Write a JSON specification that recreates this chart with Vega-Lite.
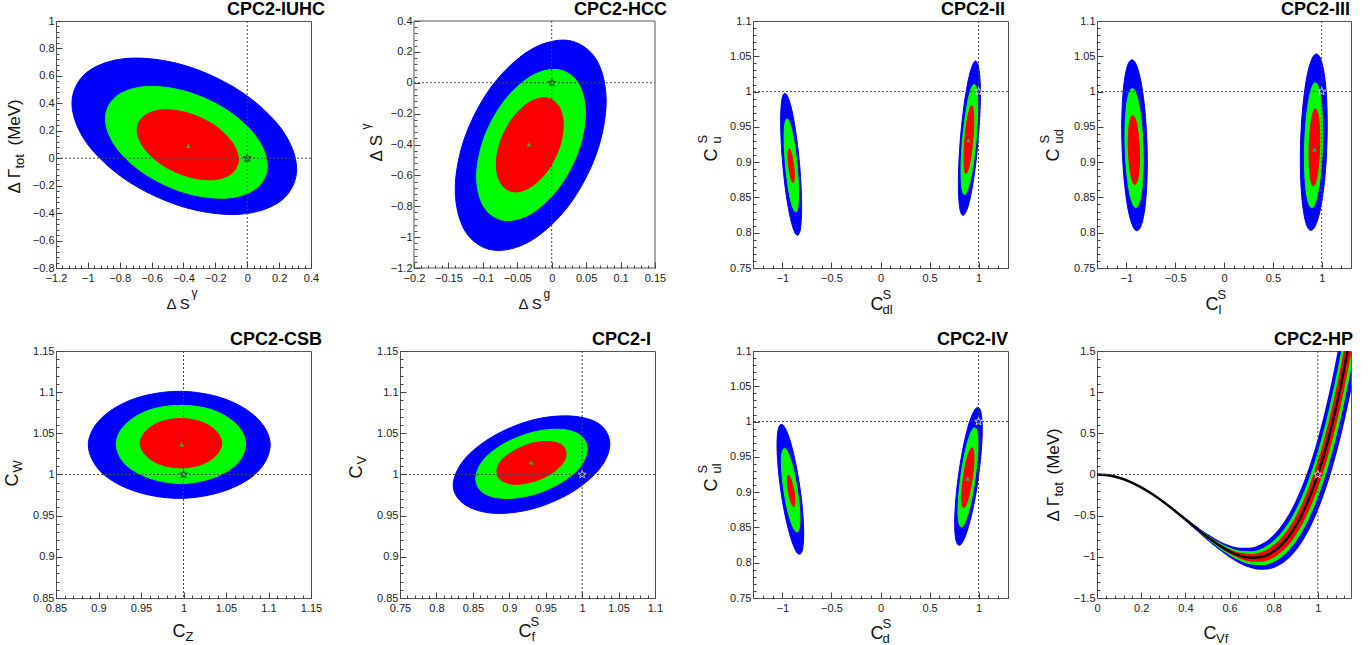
{
"$schema":"https://vega.github.io/schema/vega-lite/v6.json",
"background":"white",
"padding":{"left":2,"top":0,"right":0,"bottom":0},
"columns":7,
"align":"each",
"bounds":"flush",
"spacing":{"row":83,"column":0},
"datasets":{
"p1b":[{"i":0,"x":0.310,"y":-0.079},{"i":1,"x":0.216,"y":0.211},{"i":2,"x":-0.043,"y":0.488},{"i":3,"x":-0.395,"y":0.677},{"i":4,"x":-0.748,"y":0.728},{"i":5,"x":-1.006,"y":0.626},{"i":6,"x":-1.100,"y":0.399},{"i":7,"x":-1.006,"y":0.109},{"i":8,"x":-0.748,"y":-0.168},{"i":9,"x":-0.395,"y":-0.357},{"i":10,"x":-0.043,"y":-0.408},{"i":11,"x":0.216,"y":-0.306}],
"p1g":[{"i":0,"x":0.126,"y":-0.055},{"i":1,"x":0.058,"y":0.153},{"i":2,"x":-0.128,"y":0.351},{"i":3,"x":-0.382,"y":0.486},{"i":4,"x":-0.636,"y":0.522},{"i":5,"x":-0.822,"y":0.450},{"i":6,"x":-0.890,"y":0.287},{"i":7,"x":-0.822,"y":0.079},{"i":8,"x":-0.636,"y":-0.119},{"i":9,"x":-0.382,"y":-0.254},{"i":10,"x":-0.128,"y":-0.290},{"i":11,"x":0.058,"y":-0.218}],
"p1r":[{"i":0,"x":-0.055,"y":-0.010},{"i":1,"x":-0.098,"y":0.121},{"i":2,"x":-0.214,"y":0.246},{"i":3,"x":-0.373,"y":0.330},{"i":4,"x":-0.532,"y":0.353},{"i":5,"x":-0.648,"y":0.307},{"i":6,"x":-0.691,"y":0.206},{"i":7,"x":-0.648,"y":0.075},{"i":8,"x":-0.532,"y":-0.050},{"i":9,"x":-0.373,"y":-0.134},{"i":10,"x":-0.214,"y":-0.157},{"i":11,"x":-0.098,"y":-0.111}],
"p2b":[{"i":0,"x":0.0791,"y":-0.119},{"i":1,"x":0.0644,"y":0.153},{"i":2,"x":0.0243,"y":0.274},{"i":3,"x":-0.0305,"y":0.214},{"i":4,"x":-0.0853,"y":-0.012},{"i":5,"x":-0.1254,"y":-0.344},{"i":6,"x":-0.1401,"y":-0.691},{"i":7,"x":-0.1254,"y":-0.963},{"i":8,"x":-0.0853,"y":-1.084},{"i":9,"x":-0.0305,"y":-1.024},{"i":10,"x":0.0243,"y":-0.798},{"i":11,"x":0.0644,"y":-0.466}],
"p2g":[{"i":0,"x":0.049,"y":-0.197},{"i":1,"x":0.0384,"y":-0.002},{"i":2,"x":0.0095,"y":0.085},{"i":3,"x":-0.030,"y":0.042},{"i":4,"x":-0.0695,"y":-0.121},{"i":5,"x":-0.0984,"y":-0.359},{"i":6,"x":-0.109,"y":-0.609},{"i":7,"x":-0.0984,"y":-0.804},{"i":8,"x":-0.0695,"y":-0.891},{"i":9,"x":-0.030,"y":-0.848},{"i":10,"x":0.0095,"y":-0.685},{"i":11,"x":0.0384,"y":-0.447}],
"p2r":[{"i":0,"x":0.0169,"y":-0.274},{"i":1,"x":0.0104,"y":-0.153},{"i":2,"x":-0.0074,"y":-0.098},{"i":3,"x":-0.0318,"y":-0.125},{"i":4,"x":-0.0562,"y":-0.226},{"i":5,"x":-0.0740,"y":-0.375},{"i":6,"x":-0.0805,"y":-0.530},{"i":7,"x":-0.0740,"y":-0.651},{"i":8,"x":-0.0562,"y":-0.706},{"i":9,"x":-0.0318,"y":-0.679},{"i":10,"x":-0.0074,"y":-0.578},{"i":11,"x":0.0104,"y":-0.430}],
"p3b":[{"k":"L","i":0,"x":-0.804,"y":0.836},{"k":"L","i":1,"x":-0.818,"y":0.885},{"k":"L","i":2,"x":-0.858,"y":0.937},{"k":"L","i":3,"x":-0.911,"y":0.978},{"k":"L","i":4,"x":-0.965,"y":0.997},{"k":"L","i":5,"x":-1.004,"y":0.990},{"k":"L","i":6,"x":-1.018,"y":0.958},{"k":"L","i":7,"x":-1.004,"y":0.909},{"k":"L","i":8,"x":-0.965,"y":0.857},{"k":"L","i":9,"x":-0.911,"y":0.816},{"k":"L","i":10,"x":-0.858,"y":0.797},{"k":"L","i":11,"x":-0.818,"y":0.804},
{"k":"R","i":0,"x":1.019,"y":0.997},{"k":"R","i":1,"x":1.003,"y":1.033},{"k":"R","i":2,"x":0.962,"y":1.043},{"k":"R","i":3,"x":0.906,"y":1.023},{"k":"R","i":4,"x":0.850,"y":0.979},{"k":"R","i":5,"x":0.809,"y":0.923},{"k":"R","i":6,"x":0.794,"y":0.870},{"k":"R","i":7,"x":0.809,"y":0.834},{"k":"R","i":8,"x":0.850,"y":0.825},{"k":"R","i":9,"x":0.906,"y":0.844},{"k":"R","i":10,"x":0.962,"y":0.888},{"k":"R","i":11,"x":1.003,"y":0.944}],
"p3g":[{"k":"L","i":0,"x":-0.835,"y":0.855},{"k":"L","i":1,"x":-0.845,"y":0.887},{"k":"L","i":2,"x":-0.872,"y":0.921},{"k":"L","i":3,"x":-0.909,"y":0.948},{"k":"L","i":4,"x":-0.946,"y":0.961},{"k":"L","i":5,"x":-0.973,"y":0.956},{"k":"L","i":6,"x":-0.983,"y":0.935},{"k":"L","i":7,"x":-0.973,"y":0.903},{"k":"L","i":8,"x":-0.946,"y":0.869},{"k":"L","i":9,"x":-0.909,"y":0.842},{"k":"L","i":10,"x":-0.872,"y":0.830},{"k":"L","i":11,"x":-0.845,"y":0.834},
{"k":"R","i":0,"x":0.991,"y":0.977},{"k":"R","i":1,"x":0.980,"y":1.003},{"k":"R","i":2,"x":0.949,"y":1.010},{"k":"R","i":3,"x":0.906,"y":0.996},{"k":"R","i":4,"x":0.864,"y":0.964},{"k":"R","i":5,"x":0.832,"y":0.925},{"k":"R","i":6,"x":0.821,"y":0.887},{"k":"R","i":7,"x":0.832,"y":0.861},{"k":"R","i":8,"x":0.864,"y":0.854},{"k":"R","i":9,"x":0.906,"y":0.869},{"k":"R","i":10,"x":0.949,"y":0.900},{"k":"R","i":11,"x":0.980,"y":0.939}],
"p3r":[{"k":"L","i":0,"x":-0.879,"y":0.881},{"k":"L","i":1,"x":-0.883,"y":0.892},{"k":"L","i":2,"x":-0.895,"y":0.904},{"k":"L","i":3,"x":-0.911,"y":0.914},{"k":"L","i":4,"x":-0.927,"y":0.919},{"k":"L","i":5,"x":-0.939,"y":0.917},{"k":"L","i":6,"x":-0.943,"y":0.909},{"k":"L","i":7,"x":-0.939,"y":0.898},{"k":"L","i":8,"x":-0.927,"y":0.886},{"k":"L","i":9,"x":-0.911,"y":0.876},{"k":"L","i":10,"x":-0.895,"y":0.871},{"k":"L","i":11,"x":-0.883,"y":0.873},
{"k":"R","i":0,"x":0.951,"y":0.960},{"k":"R","i":1,"x":0.944,"y":0.976},{"k":"R","i":2,"x":0.926,"y":0.980},{"k":"R","i":3,"x":0.901,"y":0.971},{"k":"R","i":4,"x":0.876,"y":0.952},{"k":"R","i":5,"x":0.858,"y":0.927},{"k":"R","i":6,"x":0.852,"y":0.904},{"k":"R","i":7,"x":0.858,"y":0.888},{"k":"R","i":8,"x":0.876,"y":0.884},{"k":"R","i":9,"x":0.901,"y":0.893},{"k":"R","i":10,"x":0.926,"y":0.912},{"k":"R","i":11,"x":0.944,"y":0.937}],
"p4b":[{"k":"L","i":0,"x":-0.785,"y":0.900},{"k":"L","i":1,"x":-0.803,"y":0.963},{"k":"L","i":2,"x":-0.851,"y":1.015},{"k":"L","i":3,"x":-0.916,"y":1.043},{"k":"L","i":4,"x":-0.982,"y":1.039},{"k":"L","i":5,"x":-1.029,"y":1.005},{"k":"L","i":6,"x":-1.047,"y":0.948},{"k":"L","i":7,"x":-1.029,"y":0.886},{"k":"L","i":8,"x":-0.982,"y":0.833},{"k":"L","i":9,"x":-0.916,"y":0.805},{"k":"L","i":10,"x":-0.851,"y":0.809},{"k":"L","i":11,"x":-0.803,"y":0.843},
{"k":"R","i":0,"x":1.057,"y":0.953},{"k":"R","i":1,"x":1.039,"y":1.011},{"k":"R","i":2,"x":0.988,"y":1.047},{"k":"R","i":3,"x":0.919,"y":1.051},{"k":"R","i":4,"x":0.850,"y":1.022},{"k":"R","i":5,"x":0.800,"y":0.968},{"k":"R","i":6,"x":0.781,"y":0.903},{"k":"R","i":7,"x":0.800,"y":0.845},{"k":"R","i":8,"x":0.850,"y":0.809},{"k":"R","i":9,"x":0.919,"y":0.806},{"k":"R","i":10,"x":0.988,"y":0.834},{"k":"R","i":11,"x":1.039,"y":0.888}],
"p4g":[{"k":"L","i":0,"x":-0.826,"y":0.903},{"k":"L","i":1,"x":-0.839,"y":0.947},{"k":"L","i":2,"x":-0.873,"y":0.983},{"k":"L","i":3,"x":-0.920,"y":1.003},{"k":"L","i":4,"x":-0.967,"y":1.000},{"k":"L","i":5,"x":-1.001,"y":0.976},{"k":"L","i":6,"x":-1.014,"y":0.937},{"k":"L","i":7,"x":-1.001,"y":0.893},{"k":"L","i":8,"x":-0.967,"y":0.857},{"k":"L","i":9,"x":-0.920,"y":0.837},{"k":"L","i":10,"x":-0.873,"y":0.840},{"k":"L","i":11,"x":-0.839,"y":0.864},
{"k":"R","i":0,"x":1.010,"y":0.942},{"k":"R","i":1,"x":0.998,"y":0.983},{"k":"R","i":2,"x":0.963,"y":1.008},{"k":"R","i":3,"x":0.917,"y":1.011},{"k":"R","i":4,"x":0.870,"y":0.990},{"k":"R","i":5,"x":0.836,"y":0.952},{"k":"R","i":6,"x":0.823,"y":0.906},{"k":"R","i":7,"x":0.836,"y":0.865},{"k":"R","i":8,"x":0.870,"y":0.840},{"k":"R","i":9,"x":0.917,"y":0.837},{"k":"R","i":10,"x":0.963,"y":0.858},{"k":"R","i":11,"x":0.998,"y":0.896}],
"p4r":[{"k":"L","i":0,"x":-0.864,"y":0.907},{"k":"L","i":1,"x":-0.872,"y":0.933},{"k":"L","i":2,"x":-0.893,"y":0.954},{"k":"L","i":3,"x":-0.922,"y":0.965},{"k":"L","i":4,"x":-0.951,"y":0.964},{"k":"L","i":5,"x":-0.972,"y":0.950},{"k":"L","i":6,"x":-0.980,"y":0.927},{"k":"L","i":7,"x":-0.972,"y":0.902},{"k":"L","i":8,"x":-0.951,"y":0.880},{"k":"L","i":9,"x":-0.922,"y":0.869},{"k":"L","i":10,"x":-0.893,"y":0.871},{"k":"L","i":11,"x":-0.872,"y":0.885},
{"k":"R","i":0,"x":0.980,"y":0.932},{"k":"R","i":1,"x":0.973,"y":0.958},{"k":"R","i":2,"x":0.953,"y":0.973},{"k":"R","i":3,"x":0.926,"y":0.975},{"k":"R","i":4,"x":0.898,"y":0.962},{"k":"R","i":5,"x":0.878,"y":0.938},{"k":"R","i":6,"x":0.871,"y":0.910},{"k":"R","i":7,"x":0.878,"y":0.885},{"k":"R","i":8,"x":0.898,"y":0.869},{"k":"R","i":9,"x":0.926,"y":0.867},{"k":"R","i":10,"x":0.953,"y":0.880},{"k":"R","i":11,"x":0.973,"y":0.904}],
"p5b":[{"i":0,"x":1.102,"y":1.036},{"i":1,"x":1.087,"y":1.068},{"i":2,"x":1.048,"y":1.092},{"i":3,"x":0.995,"y":1.101},{"i":4,"x":0.942,"y":1.092},{"i":5,"x":0.903,"y":1.068},{"i":6,"x":0.888,"y":1.036},{"i":7,"x":0.903,"y":1.003},{"i":8,"x":0.942,"y":0.980},{"i":9,"x":0.995,"y":0.971},{"i":10,"x":1.048,"y":0.980},{"i":11,"x":1.087,"y":1.003}],
"p5g":[{"i":0,"x":1.073,"y":1.037},{"i":1,"x":1.063,"y":1.060},{"i":2,"x":1.035,"y":1.078},{"i":3,"x":0.997,"y":1.084},{"i":4,"x":0.959,"y":1.078},{"i":5,"x":0.931,"y":1.060},{"i":6,"x":0.921,"y":1.037},{"i":7,"x":0.931,"y":1.013},{"i":8,"x":0.959,"y":0.996},{"i":9,"x":0.997,"y":0.989},{"i":10,"x":1.035,"y":0.996},{"i":11,"x":1.063,"y":1.013}],
"p5r":[{"i":0,"x":1.045,"y":1.038},{"i":1,"x":1.038,"y":1.053},{"i":2,"x":1.021,"y":1.064},{"i":3,"x":0.997,"y":1.068},{"i":4,"x":0.973,"y":1.064},{"i":5,"x":0.956,"y":1.053},{"i":6,"x":0.949,"y":1.038},{"i":7,"x":0.956,"y":1.023},{"i":8,"x":0.973,"y":1.012},{"i":9,"x":0.997,"y":1.008},{"i":10,"x":1.021,"y":1.012},{"i":11,"x":1.038,"y":1.023}],
"p6b":[{"i":0,"x":1.038,"y":1.037},{"i":1,"x":1.024,"y":1.061},{"i":2,"x":0.985,"y":1.071},{"i":3,"x":0.931,"y":1.066},{"i":4,"x":0.877,"y":1.046},{"i":5,"x":0.838,"y":1.018},{"i":6,"x":0.823,"y":0.987},{"i":7,"x":0.838,"y":0.964},{"i":8,"x":0.877,"y":0.953},{"i":9,"x":0.931,"y":0.958},{"i":10,"x":0.985,"y":0.978},{"i":11,"x":1.024,"y":1.007}],
"p6g":[{"i":0,"x":1.007,"y":1.031},{"i":1,"x":0.997,"y":1.048},{"i":2,"x":0.969,"y":1.055},{"i":3,"x":0.931,"y":1.051},{"i":4,"x":0.892,"y":1.037},{"i":5,"x":0.864,"y":1.017},{"i":6,"x":0.854,"y":0.995},{"i":7,"x":0.864,"y":0.978},{"i":8,"x":0.892,"y":0.971},{"i":9,"x":0.931,"y":0.975},{"i":10,"x":0.969,"y":0.989},{"i":11,"x":0.997,"y":1.009}],
"p6r":[{"i":0,"x":0.978,"y":1.025},{"i":1,"x":0.972,"y":1.036},{"i":2,"x":0.954,"y":1.040},{"i":3,"x":0.931,"y":1.038},{"i":4,"x":0.907,"y":1.029},{"i":5,"x":0.889,"y":1.017},{"i":6,"x":0.883,"y":1.003},{"i":7,"x":0.889,"y":0.993},{"i":8,"x":0.907,"y":0.988},{"i":9,"x":0.931,"y":0.991},{"i":10,"x":0.954,"y":0.999},{"i":11,"x":0.972,"y":1.012}],
"p7b":[{"k":"L","i":0,"x":-0.783,"y":0.841},{"k":"L","i":1,"x":-0.801,"y":0.884},{"k":"L","i":2,"x":-0.851,"y":0.931},{"k":"L","i":3,"x":-0.919,"y":0.972},{"k":"L","i":4,"x":-0.987,"y":0.994},{"k":"L","i":5,"x":-1.037,"y":0.992},{"k":"L","i":6,"x":-1.055,"y":0.967},{"k":"L","i":7,"x":-1.037,"y":0.925},{"k":"L","i":8,"x":-0.987,"y":0.877},{"k":"L","i":9,"x":-0.919,"y":0.837},{"k":"L","i":10,"x":-0.851,"y":0.814},{"k":"L","i":11,"x":-0.801,"y":0.816},
{"k":"R","i":0,"x":1.038,"y":0.989},{"k":"R","i":1,"x":1.019,"y":1.016},{"k":"R","i":2,"x":0.968,"y":1.018},{"k":"R","i":3,"x":0.897,"y":0.995},{"k":"R","i":4,"x":0.827,"y":0.952},{"k":"R","i":5,"x":0.775,"y":0.901},{"k":"R","i":6,"x":0.756,"y":0.856},{"k":"R","i":7,"x":0.775,"y":0.829},{"k":"R","i":8,"x":0.827,"y":0.827},{"k":"R","i":9,"x":0.897,"y":0.851},{"k":"R","i":10,"x":0.968,"y":0.894},{"k":"R","i":11,"x":1.019,"y":0.945}],
"p7g":[{"k":"L","i":0,"x":-0.821,"y":0.862},{"k":"L","i":1,"x":-0.834,"y":0.889},{"k":"L","i":2,"x":-0.869,"y":0.920},{"k":"L","i":3,"x":-0.916,"y":0.946},{"k":"L","i":4,"x":-0.964,"y":0.961},{"k":"L","i":5,"x":-0.998,"y":0.959},{"k":"L","i":6,"x":-1.011,"y":0.943},{"k":"L","i":7,"x":-0.998,"y":0.916},{"k":"L","i":8,"x":-0.964,"y":0.885},{"k":"L","i":9,"x":-0.916,"y":0.859},{"k":"L","i":10,"x":-0.869,"y":0.845},{"k":"L","i":11,"x":-0.834,"y":0.846},
{"k":"R","i":0,"x":0.994,"y":0.969},{"k":"R","i":1,"x":0.980,"y":0.988},{"k":"R","i":2,"x":0.943,"y":0.990},{"k":"R","i":3,"x":0.892,"y":0.973},{"k":"R","i":4,"x":0.841,"y":0.942},{"k":"R","i":5,"x":0.804,"y":0.905},{"k":"R","i":6,"x":0.790,"y":0.873},{"k":"R","i":7,"x":0.804,"y":0.854},{"k":"R","i":8,"x":0.841,"y":0.852},{"k":"R","i":9,"x":0.892,"y":0.869},{"k":"R","i":10,"x":0.943,"y":0.900},{"k":"R","i":11,"x":0.980,"y":0.937}],
"p7r":[{"k":"L","i":0,"x":-0.872,"y":0.886},{"k":"L","i":1,"x":-0.877,"y":0.897},{"k":"L","i":2,"x":-0.892,"y":0.908},{"k":"L","i":3,"x":-0.911,"y":0.918},{"k":"L","i":4,"x":-0.931,"y":0.924},{"k":"L","i":5,"x":-0.945,"y":0.923},{"k":"L","i":6,"x":-0.950,"y":0.917},{"k":"L","i":7,"x":-0.945,"y":0.907},{"k":"L","i":8,"x":-0.931,"y":0.895},{"k":"L","i":9,"x":-0.911,"y":0.885},{"k":"L","i":10,"x":-0.892,"y":0.880},{"k":"L","i":11,"x":-0.877,"y":0.880},
{"k":"R","i":0,"x":0.953,"y":0.949},{"k":"R","i":1,"x":0.945,"y":0.961},{"k":"R","i":2,"x":0.922,"y":0.962},{"k":"R","i":3,"x":0.891,"y":0.952},{"k":"R","i":4,"x":0.859,"y":0.933},{"k":"R","i":5,"x":0.836,"y":0.911},{"k":"R","i":6,"x":0.828,"y":0.892},{"k":"R","i":7,"x":0.836,"y":0.880},{"k":"R","i":8,"x":0.859,"y":0.879},{"k":"R","i":9,"x":0.891,"y":0.889},{"k":"R","i":10,"x":0.922,"y":0.908},{"k":"R","i":11,"x":0.945,"y":0.930}],
"hpc":[{"x":0,"f":0},{"x":0.05,"f":-0.0101},{"x":0.1,"f":-0.0401},{"x":0.15,"f":-0.0891},{"x":0.2,"f":-0.1555},{"x":0.25,"f":-0.2373},{"x":0.3,"f":-0.3317},{"x":0.35,"f":-0.4353},{"x":0.4,"f":-0.5443},{"x":0.45,"f":-0.654},{"x":0.5,"f":-0.7594},{"x":0.55,"f":-0.8545},{"x":0.6,"f":-0.9331},{"x":0.65,"f":-0.9882},{"x":0.7,"f":-1.0121},{"x":0.75,"f":-0.9967},{"x":0.8,"f":-0.9331},{"x":0.85,"f":-0.812},{"x":0.9,"f":-0.6233},{"x":0.95,"f":-0.3564},{"x":1,"f":0},{"x":1.05,"f":0.4577},{"x":1.1,"f":1.0291},{"x":1.15,"f":1.7274}],
"hpb":[{"x":0.35,"bl":-0.4465,"bu":-0.4241,"gl":-0.4424,"gu":-0.4282,"rl":-0.4395,"ru":-0.4311},{"x":0.4,"bl":-0.5621,"bu":-0.5265,"gl":-0.5556,"gu":-0.533,"rl":-0.551,"ru":-0.5376},{"x":0.45,"bl":-0.6809,"bu":-0.6271,"gl":-0.6711,"gu":-0.6369,"rl":-0.6641,"ru":-0.6439},{"x":0.5,"bl":-0.7983,"bu":-0.7205,"gl":-0.7841,"gu":-0.7347,"rl":-0.774,"ru":-0.7448},{"x":0.55,"bl":-0.9088,"bu":-0.8002,"gl":-0.889,"gu":-0.82,"rl":-0.8749,"ru":-0.8341},{"x":0.6,"bl":-1.0067,"bu":-0.8595,"gl":-0.9799,"gu":-0.8863,"rl":-0.9607,"ru":-0.9055},{"x":0.65,"bl":-1.0856,"bu":-0.8908,"gl":-1.0502,"gu":-0.9262,"rl":-1.0247,"ru":-0.9517},{"x":0.7,"bl":-1.1384,"bu":-0.8858,"gl":-1.0925,"gu":-0.9317,"rl":-1.0595,"ru":-0.9647},{"x":0.75,"bl":-1.1575,"bu":-0.8359,"gl":-1.099,"gu":-0.8944,"rl":-1.057,"ru":-0.9364},{"x":0.8,"bl":-1.1346,"bu":-0.7316,"gl":-1.0613,"gu":-0.8049,"rl":-1.0087,"ru":-0.8575},{"x":0.85,"bl":-1.0611,"bu":-0.5629,"gl":-0.9705,"gu":-0.6535,"rl":-0.9054,"ru":-0.7186},{"x":0.9,"bl":-0.9276,"bu":-0.319,"gl":-0.8169,"gu":-0.4297,"rl":-0.7374,"ru":-0.5092},{"x":0.95,"bl":-0.7241,"bu":0.0113,"gl":-0.5904,"gu":-0.1224,"rl":-0.4943,"ru":-0.2185},{"x":1,"bl":-0.44,"bu":0.44,"gl":-0.28,"gu":0.28,"rl":-0.165,"ru":0.165},{"x":1.05,"bl":-0.0642,"bu":0.9796,"gl":0.1256,"gu":0.7898,"rl":0.262,"ru":0.6534},{"x":1.1,"bl":0.4149,"bu":1.6433,"gl":0.6382,"gu":1.42,"rl":0.7988,"ru":1.2594},{"x":1.15,"bl":1.0098,"bu":2.445,"gl":1.2707,"gu":2.1841,"rl":1.4583,"ru":1.9965}]
},
"concat":[
{"width":255,"height":247,"title":{"text":"CPC2-IUHC","dx":14},
"resolve":{"axis":{"x":"independent","y":"independent"}},
"layer":[
{"data":{"name":"p1b"},"mark":{"type":"line","interpolate":"cardinal-closed","fill":"#0000ff","stroke":"#0000ff","strokeWidth":1},
"encoding":{"x":{"field":"x","type":"quantitative","scale":{"domain":[-1.2,0.4]},"axis":{"orient":"bottom","values":[-1.2,-1,-0.8,-0.6,-0.4,-0.2,0,0.2,0.4],"ticks":false,"format":"~g","title":"Δ S","titleFontSize":15,"titleX":110,"titleY":40}},
"y":{"field":"y","type":"quantitative","scale":{"domain":[-0.8,1]},"axis":{"orient":"left","values":[-0.8,-0.6,-0.4,-0.2,0,0.2,0.4,0.6,0.8,1],"ticks":false,"format":"~g","title":"Δ Γ","titleFontSize":17,"titleX":-37,"titleY":172}},
"order":{"field":"i"}}},
{"data":{"name":"p1g"},"mark":{"type":"line","interpolate":"cardinal-closed","fill":"#00ff00","stroke":"#00ff00","strokeWidth":1},
"encoding":{"x":{"field":"x","type":"quantitative","scale":{"domain":[-1.2,0.4]},"axis":{"orient":"bottom","values":[-1.2,-1,-0.8,-0.6,-0.4,-0.2,0,0.2,0.4],"labels":false,"tickSize":-6,"title":"γ","titleFontSize":12,"titleX":135,"titleY":28}},
"y":{"field":"y","type":"quantitative","scale":{"domain":[-0.8,1]},"axis":{"orient":"left","values":[-0.8,-0.6,-0.4,-0.2,0,0.2,0.4,0.6,0.8,1],"labels":false,"tickSize":-6,"title":"tot","titleFontSize":13,"titleX":-33,"titleY":147}},
"order":{"field":"i"}}},
{"data":{"name":"p1r"},"mark":{"type":"line","interpolate":"cardinal-closed","fill":"#ff0000","stroke":"#ff0000","strokeWidth":1},
"encoding":{"x":{"field":"x","type":"quantitative","scale":{"domain":[-1.2,0.4]},"axis":{"orient":"bottom","values":[-1.2,-1.16,-1.12,-1.08,-1.04,-1,-0.96,-0.92,-0.88,-0.84,-0.8,-0.76,-0.72,-0.68,-0.64,-0.6,-0.56,-0.52,-0.48,-0.44,-0.4,-0.36,-0.32,-0.28,-0.24,-0.2,-0.16,-0.12,-0.08,-0.04,0,0.04,0.08,0.12,0.16,0.2,0.24,0.28,0.32,0.36,0.4],"labels":false,"tickSize":-3,"title":null}},
"y":{"field":"y","type":"quantitative","scale":{"domain":[-0.8,1]},"axis":{"orient":"left","values":[-0.8,-0.76,-0.72,-0.68,-0.64,-0.6,-0.56,-0.52,-0.48,-0.44,-0.4,-0.36,-0.32,-0.28,-0.24,-0.2,-0.16,-0.12,-0.08,-0.04,0,0.04,0.08,0.12,0.16,0.2,0.24,0.28,0.32,0.36,0.4,0.44,0.48,0.52,0.56,0.6,0.64,0.68,0.72,0.76,0.8,0.84,0.88,0.92,0.96,1],"labels":false,"tickSize":-3,"title":"(MeV)","titleFontSize":17,"titleX":-37,"titleY":124}},
"order":{"field":"i"}}},
{"data":{"values":[{"v":0}]},"mark":{"type":"rule","strokeDash":[2,2],"color":"#444","strokeWidth":1},"encoding":{"x":{"field":"v","type":"quantitative","scale":{"domain":[-1.2,0.4]},"axis":null}}},
{"data":{"values":[{"v":0}]},"mark":{"type":"rule","strokeDash":[2,2],"color":"#444","strokeWidth":1},"encoding":{"y":{"field":"v","type":"quantitative","scale":{"domain":[-0.8,1]},"axis":null}}},
{"data":{"values":[{"x":-0.37,"y":0.09}]},"mark":{"type":"point","shape":"triangle-up","filled":true,"color":"#22bb22","size":22,"opacity":1},"encoding":{"x":{"field":"x","type":"quantitative","scale":{"domain":[-1.2,0.4]},"axis":null},"y":{"field":"y","type":"quantitative","scale":{"domain":[-0.8,1]},"axis":null}}},
{"data":{"values":[{"x":0,"y":0}]},"mark":{"type":"point","shape":"M0,-1L0.235,-0.324L0.951,-0.309L0.38,0.124L0.588,0.809L0,0.4L-0.588,0.809L-0.38,0.124L-0.951,-0.309L-0.235,-0.324Z","filled":false,"color":"#333","size":70,"strokeWidth":1,"opacity":1},"encoding":{"x":{"field":"x","type":"quantitative","scale":{"domain":[-1.2,0.4]},"axis":null},"y":{"field":"y","type":"quantitative","scale":{"domain":[-0.8,1]},"axis":null}}}
]},
{"width":89,"height":247,"view":{"stroke":null},"data":{"values":[]},"mark":"point"},
{"width":255,"height":247,"title":{"text":"CPC2-HCC","dx":12},"view":{"stroke":null},
"resolve":{"axis":{"x":"independent","y":"independent"}},
"layer":[
{"data":{"name":"p2b"},"mark":{"type":"line","interpolate":"cardinal-closed","fill":"#0000ff","stroke":"#0000ff","strokeWidth":1},
"encoding":{"x":{"field":"x","type":"quantitative","scale":{"domain":[-0.2203,0.15]},"axis":{"orient":"bottom","values":[-0.2,-0.15,-0.1,-0.05,0,0.05,0.1,0.15],"ticks":false,"format":"~g","title":"Δ S","titleFontSize":15,"titleX":118,"titleY":40}},
"y":{"field":"y","type":"quantitative","scale":{"domain":[-1.2,0.4]},"axis":{"orient":"left","offset":-14,"values":[-1.2,-1,-0.8,-0.6,-0.4,-0.2,0,0.2,0.4],"ticks":false,"format":"~g","title":"Δ S","titleFontSize":17,"titleX":-33,"titleY":140}},
"order":{"field":"i"}}},
{"data":{"name":"p2g"},"mark":{"type":"line","interpolate":"cardinal-closed","fill":"#00ff00","stroke":"#00ff00","strokeWidth":1},
"encoding":{"x":{"field":"x","type":"quantitative","scale":{"domain":[-0.2203,0.15]},"axis":{"orient":"bottom","values":[-0.2,-0.15,-0.1,-0.05,0,0.05,0.1,0.15],"labels":false,"tickSize":-6,"title":"g","titleFontSize":12,"titleX":143,"titleY":29}},
"y":{"field":"y","type":"quantitative","scale":{"domain":[-1.2,0.4]},"axis":{"orient":"left","offset":-14,"values":[-1.2,-1,-0.8,-0.6,-0.4,-0.2,0,0.2,0.4],"labels":false,"tickSize":-6,"title":"γ","titleFontSize":12,"titleX":-45,"titleY":108}},
"order":{"field":"i"}}},
{"data":{"name":"p2r"},"mark":{"type":"line","interpolate":"cardinal-closed","fill":"#ff0000","stroke":"#ff0000","strokeWidth":1},
"encoding":{"x":{"field":"x","type":"quantitative","scale":{"domain":[-0.2203,0.15]},"axis":{"orient":"bottom","values":[-0.2,-0.19,-0.18,-0.17,-0.16,-0.15,-0.14,-0.13,-0.12,-0.11,-0.1,-0.09,-0.08,-0.07,-0.06,-0.05,-0.04,-0.03,-0.02,-0.01,0,0.01,0.02,0.03,0.04,0.05,0.06,0.07,0.08,0.09,0.1,0.11,0.12,0.13,0.14,0.15],"labels":false,"tickSize":-3,"title":null}},
"y":{"field":"y","type":"quantitative","scale":{"domain":[-1.2,0.4]},"axis":{"orient":"left","offset":-14,"values":[-1.2,-1.16,-1.12,-1.08,-1.04,-1,-0.96,-0.92,-0.88,-0.84,-0.8,-0.76,-0.72,-0.68,-0.64,-0.6,-0.56,-0.52,-0.48,-0.44,-0.4,-0.36,-0.32,-0.28,-0.24,-0.2,-0.16,-0.12,-0.08,-0.04,0,0.04,0.08,0.12,0.16,0.2,0.24,0.28,0.32,0.36,0.4],"labels":false,"tickSize":-3,"title":null}},
"order":{"field":"i"}}},
{"data":{"values":[{"v":0}]},"mark":{"type":"rule","strokeDash":[2,2],"color":"#444","strokeWidth":1},"encoding":{"x":{"field":"v","type":"quantitative","scale":{"domain":[-0.2203,0.15]},"axis":null}}},
{"data":{"values":[{"v":0,"a":-0.2,"b":0.15}]},"mark":{"type":"rule","strokeDash":[2,2],"color":"#444","strokeWidth":1},"encoding":{"y":{"field":"v","type":"quantitative","scale":{"domain":[-1.2,0.4]},"axis":null},"x":{"field":"a","type":"quantitative","scale":{"domain":[-0.2203,0.15]},"axis":null},"x2":{"field":"b"}}},
{"data":{"values":[{"x":-0.033,"y":-0.4}]},"mark":{"type":"point","shape":"triangle-up","filled":true,"color":"#22bb22","size":22,"opacity":1},"encoding":{"x":{"field":"x","type":"quantitative","scale":{"domain":[-0.2203,0.15]},"axis":null},"y":{"field":"y","type":"quantitative","scale":{"domain":[-1.2,0.4]},"axis":null}}},
{"data":{"values":[{"x":0,"y":0}]},"mark":{"type":"point","shape":"M0,-1L0.235,-0.324L0.951,-0.309L0.38,0.124L0.588,0.809L0,0.4L-0.588,0.809L-0.38,0.124L-0.951,-0.309L-0.235,-0.324Z","filled":false,"color":"#333","size":70,"strokeWidth":1,"opacity":1},"encoding":{"x":{"field":"x","type":"quantitative","scale":{"domain":[-0.2203,0.15]},"axis":null},"y":{"field":"y","type":"quantitative","scale":{"domain":[-1.2,0.4]},"axis":null}}},
{"data":{"values":[{"a":-0.2,"b":0.15,"c":-1.2,"d":0.4}]},"mark":{"type":"rect","filled":false,"stroke":"#555","strokeWidth":1},"encoding":{"x":{"field":"a","type":"quantitative","scale":{"domain":[-0.2203,0.15]},"axis":null},"x2":{"field":"b"},"y":{"field":"c","type":"quantitative","scale":{"domain":[-1.2,0.4]},"axis":null},"y2":{"field":"d"}}}
]},
{"width":98,"height":247,"view":{"stroke":null},"data":{"values":[]},"mark":"point"},
{"width":255,"height":247,"title":{"text":"CPC2-II","dx":-3},
"resolve":{"axis":{"x":"independent","y":"independent"}},
"layer":[
{"data":{"name":"p3b"},"mark":{"type":"line","interpolate":"cardinal-closed","fill":"#0000ff","stroke":"#0000ff","strokeWidth":1},
"encoding":{"x":{"field":"x","type":"quantitative","scale":{"domain":[-1.3,1.3]},"axis":{"orient":"bottom","values":[-1,-0.5,0,0.5,1],"ticks":false,"format":"~g","title":"C","titleFontSize":18,"titleX":117,"titleY":41}},
"y":{"field":"y","type":"quantitative","scale":{"domain":[0.75,1.1]},"axis":{"orient":"left","values":[0.75,0.8,0.85,0.9,0.95,1,1.05,1.1],"ticks":false,"format":"~g","title":"C","titleFontSize":18,"titleX":-37,"titleY":140}},
"detail":{"field":"k"},"order":{"field":"i"}}},
{"data":{"name":"p3g"},"mark":{"type":"line","interpolate":"cardinal-closed","fill":"#00ff00","stroke":"#00ff00","strokeWidth":1},
"encoding":{"x":{"field":"x","type":"quantitative","scale":{"domain":[-1.3,1.3]},"axis":{"orient":"bottom","values":[-1,-0.5,0,0.5,1],"labels":false,"tickSize":-6,"title":"S","titleFontSize":13,"titleX":129,"titleY":30.5}},
"y":{"field":"y","type":"quantitative","scale":{"domain":[0.75,1.1]},"axis":{"orient":"left","values":[0.75,0.8,0.85,0.9,0.95,1,1.05,1.1],"labels":false,"tickSize":-6,"title":"S","titleFontSize":13,"titleX":-47,"titleY":122}},
"detail":{"field":"k"},"order":{"field":"i"}}},
{"data":{"name":"p3r"},"mark":{"type":"line","interpolate":"cardinal-closed","fill":"#ff0000","stroke":"#ff0000","strokeWidth":1},
"encoding":{"x":{"field":"x","type":"quantitative","scale":{"domain":[-1.3,1.3]},"axis":{"orient":"bottom","values":[-1.3,-1.2,-1.1,-1,-0.9,-0.8,-0.7,-0.6,-0.5,-0.4,-0.3,-0.2,-0.1,0,0.1,0.2,0.3,0.4,0.5,0.6,0.7,0.8,0.9,1,1.1,1.2,1.3],"labels":false,"tickSize":-3,"title":"dl","titleFontSize":13,"titleX":129,"titleY":45}},
"y":{"field":"y","type":"quantitative","scale":{"domain":[0.75,1.1]},"axis":{"orient":"left","values":[0.75,0.76,0.77,0.78,0.79,0.8,0.81,0.82,0.83,0.84,0.85,0.86,0.87,0.88,0.89,0.9,0.91,0.92,0.93,0.94,0.95,0.96,0.97,0.98,0.99,1,1.01,1.02,1.03,1.04,1.05,1.06,1.07,1.08,1.09,1.1],"labels":false,"tickSize":-3,"title":"u","titleFontSize":13,"titleX":-33,"titleY":122}},
"detail":{"field":"k"},"order":{"field":"i"}}},
{"data":{"values":[{"v":1}]},"mark":{"type":"rule","strokeDash":[2,2],"color":"#444","strokeWidth":1},"encoding":{"x":{"field":"v","type":"quantitative","scale":{"domain":[-1.3,1.3]},"axis":null}}},
{"data":{"values":[{"v":1}]},"mark":{"type":"rule","strokeDash":[2,2],"color":"#444","strokeWidth":1},"encoding":{"y":{"field":"v","type":"quantitative","scale":{"domain":[0.75,1.1]},"axis":null}}},
{"data":{"values":[{"x":0.897,"y":0.931}]},"mark":{"type":"point","shape":"triangle-up","filled":true,"color":"#22bb22","size":22,"opacity":1},"encoding":{"x":{"field":"x","type":"quantitative","scale":{"domain":[-1.3,1.3]},"axis":null},"y":{"field":"y","type":"quantitative","scale":{"domain":[0.75,1.1]},"axis":null}}},
{"data":{"values":[{"x":1,"y":1}]},"mark":{"type":"point","shape":"M0,-1L0.235,-0.324L0.951,-0.309L0.38,0.124L0.588,0.809L0,0.4L-0.588,0.809L-0.38,0.124L-0.951,-0.309L-0.235,-0.324Z","filled":false,"color":"#ccccdd","size":70,"strokeWidth":1,"opacity":1},"encoding":{"x":{"field":"x","type":"quantitative","scale":{"domain":[-1.3,1.3]},"axis":null},"y":{"field":"y","type":"quantitative","scale":{"domain":[0.75,1.1]},"axis":null}}}
]},
{"width":89,"height":247,"view":{"stroke":null},"data":{"values":[]},"mark":"point"},
{"width":254,"height":247,"title":{"text":"CPC2-III","dx":-1},
"resolve":{"axis":{"x":"independent","y":"independent"}},
"layer":[
{"data":{"name":"p4b"},"mark":{"type":"line","interpolate":"cardinal-closed","fill":"#0000ff","stroke":"#0000ff","strokeWidth":1},
"encoding":{"x":{"field":"x","type":"quantitative","scale":{"domain":[-1.3,1.3]},"axis":{"orient":"bottom","values":[-1,-0.5,0,0.5,1],"ticks":false,"format":"~g","title":"C","titleFontSize":18,"titleX":108,"titleY":41}},
"y":{"field":"y","type":"quantitative","scale":{"domain":[0.75,1.1]},"axis":{"orient":"left","values":[0.75,0.8,0.85,0.9,0.95,1,1.05,1.1],"ticks":false,"format":"~g","title":"C","titleFontSize":18,"titleX":-39,"titleY":140}},
"detail":{"field":"k"},"order":{"field":"i"}}},
{"data":{"name":"p4g"},"mark":{"type":"line","interpolate":"cardinal-closed","fill":"#00ff00","stroke":"#00ff00","strokeWidth":1},
"encoding":{"x":{"field":"x","type":"quantitative","scale":{"domain":[-1.3,1.3]},"axis":{"orient":"bottom","values":[-1,-0.5,0,0.5,1],"labels":false,"tickSize":-6,"title":"S","titleFontSize":13,"titleX":120,"titleY":30}},
"y":{"field":"y","type":"quantitative","scale":{"domain":[0.75,1.1]},"axis":{"orient":"left","values":[0.75,0.8,0.85,0.9,0.95,1,1.05,1.1],"labels":false,"tickSize":-6,"title":"S","titleFontSize":13,"titleX":-49,"titleY":122}},
"detail":{"field":"k"},"order":{"field":"i"}}},
{"data":{"name":"p4r"},"mark":{"type":"line","interpolate":"cardinal-closed","fill":"#ff0000","stroke":"#ff0000","strokeWidth":1},
"encoding":{"x":{"field":"x","type":"quantitative","scale":{"domain":[-1.3,1.3]},"axis":{"orient":"bottom","values":[-1.3,-1.2,-1.1,-1,-0.9,-0.8,-0.7,-0.6,-0.5,-0.4,-0.3,-0.2,-0.1,0,0.1,0.2,0.3,0.4,0.5,0.6,0.7,0.8,0.9,1,1.1,1.2,1.3],"labels":false,"tickSize":-3,"title":"l","titleFontSize":13,"titleX":121,"titleY":45}},
"y":{"field":"y","type":"quantitative","scale":{"domain":[0.75,1.1]},"axis":{"orient":"left","values":[0.75,0.76,0.77,0.78,0.79,0.8,0.81,0.82,0.83,0.84,0.85,0.86,0.87,0.88,0.89,0.9,0.91,0.92,0.93,0.94,0.95,0.96,0.97,0.98,0.99,1,1.01,1.02,1.03,1.04,1.05,1.06,1.07,1.08,1.09,1.1],"labels":false,"tickSize":-3,"title":"ud","titleFontSize":13,"titleX":-35,"titleY":122}},
"detail":{"field":"k"},"order":{"field":"i"}}},
{"data":{"values":[{"v":1}]},"mark":{"type":"rule","strokeDash":[2,2],"color":"#444","strokeWidth":1},"encoding":{"x":{"field":"v","type":"quantitative","scale":{"domain":[-1.3,1.3]},"axis":null}}},
{"data":{"values":[{"v":1}]},"mark":{"type":"rule","strokeDash":[2,2],"color":"#444","strokeWidth":1},"encoding":{"y":{"field":"v","type":"quantitative","scale":{"domain":[0.75,1.1]},"axis":null}}},
{"data":{"values":[{"x":0.927,"y":0.918}]},"mark":{"type":"point","shape":"triangle-up","filled":true,"color":"#22bb22","size":22,"opacity":1},"encoding":{"x":{"field":"x","type":"quantitative","scale":{"domain":[-1.3,1.3]},"axis":null},"y":{"field":"y","type":"quantitative","scale":{"domain":[0.75,1.1]},"axis":null}}},
{"data":{"values":[{"x":1,"y":1}]},"mark":{"type":"point","shape":"M0,-1L0.235,-0.324L0.951,-0.309L0.38,0.124L0.588,0.809L0,0.4L-0.588,0.809L-0.38,0.124L-0.951,-0.309L-0.235,-0.324Z","filled":false,"color":"#ccccdd","size":70,"strokeWidth":1,"opacity":1},"encoding":{"x":{"field":"x","type":"quantitative","scale":{"domain":[-1.3,1.3]},"axis":null},"y":{"field":"y","type":"quantitative","scale":{"domain":[0.75,1.1]},"axis":null}}}
]},
{"width":255,"height":247,"title":{"text":"CPC2-CSB","dx":11},
"resolve":{"axis":{"x":"independent","y":"independent"}},
"layer":[
{"data":{"name":"p5b"},"mark":{"type":"line","interpolate":"cardinal-closed","fill":"#0000ff","stroke":"#0000ff","strokeWidth":1},
"encoding":{"x":{"field":"x","type":"quantitative","scale":{"domain":[0.85,1.15]},"axis":{"orient":"bottom","values":[0.85,0.9,0.95,1,1.05,1.1,1.15],"ticks":false,"format":"~g","title":"C","titleFontSize":18,"titleX":116,"titleY":38}},
"y":{"field":"y","type":"quantitative","scale":{"domain":[0.85,1.15]},"axis":{"orient":"left","values":[0.85,0.9,0.95,1,1.05,1.1,1.15],"ticks":false,"format":"~g","title":"C","titleFontSize":18,"titleX":-39,"titleY":135}},
"order":{"field":"i"}}},
{"data":{"name":"p5g"},"mark":{"type":"line","interpolate":"cardinal-closed","fill":"#00ff00","stroke":"#00ff00","strokeWidth":1},
"encoding":{"x":{"field":"x","type":"quantitative","scale":{"domain":[0.85,1.15]},"axis":{"orient":"bottom","values":[0.85,0.9,0.95,1,1.05,1.1,1.15],"labels":false,"tickSize":-6,"title":"Z","titleFontSize":13,"titleX":129,"titleY":42}},
"y":{"field":"y","type":"quantitative","scale":{"domain":[0.85,1.15]},"axis":{"orient":"left","values":[0.85,0.9,0.95,1,1.05,1.1,1.15],"labels":false,"tickSize":-6,"title":"W","titleFontSize":13,"titleX":-35,"titleY":121}},
"order":{"field":"i"}}},
{"data":{"name":"p5r"},"mark":{"type":"line","interpolate":"cardinal-closed","fill":"#ff0000","stroke":"#ff0000","strokeWidth":1},
"encoding":{"x":{"field":"x","type":"quantitative","scale":{"domain":[0.85,1.15]},"axis":{"orient":"bottom","values":[0.85,0.86,0.87,0.88,0.89,0.9,0.91,0.92,0.93,0.94,0.95,0.96,0.97,0.98,0.99,1,1.01,1.02,1.03,1.04,1.05,1.06,1.07,1.08,1.09,1.1,1.11,1.12,1.13,1.14,1.15],"labels":false,"tickSize":-3,"title":null}},
"y":{"field":"y","type":"quantitative","scale":{"domain":[0.85,1.15]},"axis":{"orient":"left","values":[0.85,0.86,0.87,0.88,0.89,0.9,0.91,0.92,0.93,0.94,0.95,0.96,0.97,0.98,0.99,1,1.01,1.02,1.03,1.04,1.05,1.06,1.07,1.08,1.09,1.1,1.11,1.12,1.13,1.14,1.15],"labels":false,"tickSize":-3,"title":null}},
"order":{"field":"i"}}},
{"data":{"values":[{"v":1}]},"mark":{"type":"rule","strokeDash":[2,2],"color":"#444","strokeWidth":1},"encoding":{"x":{"field":"v","type":"quantitative","scale":{"domain":[0.85,1.15]},"axis":null}}},
{"data":{"values":[{"v":1}]},"mark":{"type":"rule","strokeDash":[2,2],"color":"#444","strokeWidth":1},"encoding":{"y":{"field":"v","type":"quantitative","scale":{"domain":[0.85,1.15]},"axis":null}}},
{"data":{"values":[{"x":0.998,"y":1.0365}]},"mark":{"type":"point","shape":"triangle-up","filled":true,"color":"#22bb22","size":22,"opacity":1},"encoding":{"x":{"field":"x","type":"quantitative","scale":{"domain":[0.85,1.15]},"axis":null},"y":{"field":"y","type":"quantitative","scale":{"domain":[0.85,1.15]},"axis":null}}},
{"data":{"values":[{"x":1,"y":1}]},"mark":{"type":"point","shape":"M0,-1L0.235,-0.324L0.951,-0.309L0.38,0.124L0.588,0.809L0,0.4L-0.588,0.809L-0.38,0.124L-0.951,-0.309L-0.235,-0.324Z","filled":false,"color":"#333","size":70,"strokeWidth":1,"opacity":1},"encoding":{"x":{"field":"x","type":"quantitative","scale":{"domain":[0.85,1.15]},"axis":null},"y":{"field":"y","type":"quantitative","scale":{"domain":[0.85,1.15]},"axis":null}}}
]},
{"width":89,"height":247,"view":{"stroke":null},"data":{"values":[]},"mark":"point"},
{"width":255,"height":247,"title":{"text":"CPC2-I","dx":-4},
"resolve":{"axis":{"x":"independent","y":"independent"}},
"layer":[
{"data":{"name":"p6b"},"mark":{"type":"line","interpolate":"cardinal-closed","fill":"#0000ff","stroke":"#0000ff","strokeWidth":1},
"encoding":{"x":{"field":"x","type":"quantitative","scale":{"domain":[0.75,1.1]},"axis":{"orient":"bottom","values":[0.75,0.8,0.85,0.9,0.95,1,1.05,1.1],"ticks":false,"format":"~g","title":"C","titleFontSize":18,"titleX":118,"titleY":38}},
"y":{"field":"y","type":"quantitative","scale":{"domain":[0.85,1.15]},"axis":{"orient":"left","values":[0.85,0.9,0.95,1,1.05,1.1,1.15],"ticks":false,"format":"~g","title":"C","titleFontSize":18,"titleX":-39,"titleY":127}},
"order":{"field":"i"}}},
{"data":{"name":"p6g"},"mark":{"type":"line","interpolate":"cardinal-closed","fill":"#00ff00","stroke":"#00ff00","strokeWidth":1},
"encoding":{"x":{"field":"x","type":"quantitative","scale":{"domain":[0.75,1.1]},"axis":{"orient":"bottom","values":[0.75,0.8,0.85,0.9,0.95,1,1.05,1.1],"labels":false,"tickSize":-6,"title":"S","titleFontSize":13,"titleX":130,"titleY":27}},
"y":{"field":"y","type":"quantitative","scale":{"domain":[0.85,1.15]},"axis":{"orient":"left","values":[0.85,0.9,0.95,1,1.05,1.1,1.15],"labels":false,"tickSize":-6,"title":"V","titleFontSize":13,"titleX":-35,"titleY":113}},
"order":{"field":"i"}}},
{"data":{"name":"p6r"},"mark":{"type":"line","interpolate":"cardinal-closed","fill":"#ff0000","stroke":"#ff0000","strokeWidth":1},
"encoding":{"x":{"field":"x","type":"quantitative","scale":{"domain":[0.75,1.1]},"axis":{"orient":"bottom","values":[0.75,0.76,0.77,0.78,0.79,0.8,0.81,0.82,0.83,0.84,0.85,0.86,0.87,0.88,0.89,0.9,0.91,0.92,0.93,0.94,0.95,0.96,0.97,0.98,0.99,1,1.01,1.02,1.03,1.04,1.05,1.06,1.07,1.08,1.09,1.1],"labels":false,"tickSize":-3,"title":"f","titleFontSize":13,"titleX":131,"titleY":42}},
"y":{"field":"y","type":"quantitative","scale":{"domain":[0.85,1.15]},"axis":{"orient":"left","values":[0.85,0.86,0.87,0.88,0.89,0.9,0.91,0.92,0.93,0.94,0.95,0.96,0.97,0.98,0.99,1,1.01,1.02,1.03,1.04,1.05,1.06,1.07,1.08,1.09,1.1,1.11,1.12,1.13,1.14,1.15],"labels":false,"tickSize":-3,"title":null}},
"order":{"field":"i"}}},
{"data":{"values":[{"v":1}]},"mark":{"type":"rule","strokeDash":[2,2],"color":"#444","strokeWidth":1},"encoding":{"x":{"field":"v","type":"quantitative","scale":{"domain":[0.75,1.1]},"axis":null}}},
{"data":{"values":[{"v":1}]},"mark":{"type":"rule","strokeDash":[2,2],"color":"#444","strokeWidth":1},"encoding":{"y":{"field":"v","type":"quantitative","scale":{"domain":[0.85,1.15]},"axis":null}}},
{"data":{"values":[{"x":0.93,"y":1.0146}]},"mark":{"type":"point","shape":"triangle-up","filled":true,"color":"#22bb22","size":22,"opacity":1},"encoding":{"x":{"field":"x","type":"quantitative","scale":{"domain":[0.75,1.1]},"axis":null},"y":{"field":"y","type":"quantitative","scale":{"domain":[0.85,1.15]},"axis":null}}},
{"data":{"values":[{"x":1,"y":1}]},"mark":{"type":"point","shape":"M0,-1L0.235,-0.324L0.951,-0.309L0.38,0.124L0.588,0.809L0,0.4L-0.588,0.809L-0.38,0.124L-0.951,-0.309L-0.235,-0.324Z","filled":false,"color":"#b8bcd8","size":70,"strokeWidth":1,"opacity":1},"encoding":{"x":{"field":"x","type":"quantitative","scale":{"domain":[0.75,1.1]},"axis":null},"y":{"field":"y","type":"quantitative","scale":{"domain":[0.85,1.15]},"axis":null}}}
]},
{"width":98,"height":247,"view":{"stroke":null},"data":{"values":[]},"mark":"point"},
{"width":255,"height":247,"title":{"text":"CPC2-IV","dx":0},
"resolve":{"axis":{"x":"independent","y":"independent"}},
"layer":[
{"data":{"name":"p7b"},"mark":{"type":"line","interpolate":"cardinal-closed","fill":"#0000ff","stroke":"#0000ff","strokeWidth":1},
"encoding":{"x":{"field":"x","type":"quantitative","scale":{"domain":[-1.3,1.3]},"axis":{"orient":"bottom","values":[-1,-0.5,0,0.5,1],"ticks":false,"format":"~g","title":"C","titleFontSize":18,"titleX":117,"titleY":40}},
"y":{"field":"y","type":"quantitative","scale":{"domain":[0.75,1.1]},"axis":{"orient":"left","values":[0.75,0.8,0.85,0.9,0.95,1,1.05,1.1],"ticks":false,"format":"~g","title":"C","titleFontSize":18,"titleX":-37,"titleY":140}},
"detail":{"field":"k"},"order":{"field":"i"}}},
{"data":{"name":"p7g"},"mark":{"type":"line","interpolate":"cardinal-closed","fill":"#00ff00","stroke":"#00ff00","strokeWidth":1},
"encoding":{"x":{"field":"x","type":"quantitative","scale":{"domain":[-1.3,1.3]},"axis":{"orient":"bottom","values":[-1,-0.5,0,0.5,1],"labels":false,"tickSize":-6,"title":"S","titleFontSize":13,"titleX":129,"titleY":29.5}},
"y":{"field":"y","type":"quantitative","scale":{"domain":[0.75,1.1]},"axis":{"orient":"left","values":[0.75,0.8,0.85,0.9,0.95,1,1.05,1.1],"labels":false,"tickSize":-6,"title":"S","titleFontSize":13,"titleX":-47,"titleY":122}},
"detail":{"field":"k"},"order":{"field":"i"}}},
{"data":{"name":"p7r"},"mark":{"type":"line","interpolate":"cardinal-closed","fill":"#ff0000","stroke":"#ff0000","strokeWidth":1},
"encoding":{"x":{"field":"x","type":"quantitative","scale":{"domain":[-1.3,1.3]},"axis":{"orient":"bottom","values":[-1.3,-1.2,-1.1,-1,-0.9,-0.8,-0.7,-0.6,-0.5,-0.4,-0.3,-0.2,-0.1,0,0.1,0.2,0.3,0.4,0.5,0.6,0.7,0.8,0.9,1,1.1,1.2,1.3],"labels":false,"tickSize":-3,"title":"d","titleFontSize":13,"titleX":129,"titleY":44.5}},
"y":{"field":"y","type":"quantitative","scale":{"domain":[0.75,1.1]},"axis":{"orient":"left","values":[0.75,0.76,0.77,0.78,0.79,0.8,0.81,0.82,0.83,0.84,0.85,0.86,0.87,0.88,0.89,0.9,0.91,0.92,0.93,0.94,0.95,0.96,0.97,0.98,0.99,1,1.01,1.02,1.03,1.04,1.05,1.06,1.07,1.08,1.09,1.1],"labels":false,"tickSize":-3,"title":"ul","titleFontSize":13,"titleX":-33,"titleY":122}},
"detail":{"field":"k"},"order":{"field":"i"}}},
{"data":{"values":[{"v":1}]},"mark":{"type":"rule","strokeDash":[2,2],"color":"#444","strokeWidth":1},"encoding":{"x":{"field":"v","type":"quantitative","scale":{"domain":[-1.3,1.3]},"axis":null}}},
{"data":{"values":[{"v":1}]},"mark":{"type":"rule","strokeDash":[2,2],"color":"#444","strokeWidth":1},"encoding":{"y":{"field":"v","type":"quantitative","scale":{"domain":[0.75,1.1]},"axis":null}}},
{"data":{"values":[{"x":0.889,"y":0.919}]},"mark":{"type":"point","shape":"triangle-up","filled":true,"color":"#22bb22","size":22,"opacity":1},"encoding":{"x":{"field":"x","type":"quantitative","scale":{"domain":[-1.3,1.3]},"axis":null},"y":{"field":"y","type":"quantitative","scale":{"domain":[0.75,1.1]},"axis":null}}},
{"data":{"values":[{"x":1,"y":1}]},"mark":{"type":"point","shape":"M0,-1L0.235,-0.324L0.951,-0.309L0.38,0.124L0.588,0.809L0,0.4L-0.588,0.809L-0.38,0.124L-0.951,-0.309L-0.235,-0.324Z","filled":false,"color":"#ccccdd","size":70,"strokeWidth":1,"opacity":1},"encoding":{"x":{"field":"x","type":"quantitative","scale":{"domain":[-1.3,1.3]},"axis":null},"y":{"field":"y","type":"quantitative","scale":{"domain":[0.75,1.1]},"axis":null}}}
]},
{"width":89,"height":247,"view":{"stroke":null},"data":{"values":[]},"mark":"point"},
{"width":254,"height":247,"title":{"text":"CPC2-HP","dx":2},
"resolve":{"axis":{"x":"independent","y":"independent"}},
"layer":[
{"data":{"name":"hpb"},"mark":{"type":"area","interpolate":"monotone","color":"#0000ff","clip":true},
"encoding":{"x":{"field":"x","type":"quantitative","scale":{"domain":[0,1.15]},"axis":{"orient":"bottom","values":[0,0.2,0.4,0.6,0.8,1],"ticks":false,"format":"~g","title":"C","titleFontSize":18,"titleX":106,"titleY":40}},
"y":{"field":"bl","type":"quantitative","scale":{"domain":[-1.5,1.5]},"axis":{"orient":"left","values":[-1.5,-1,-0.5,0,0.5,1,1.5],"ticks":false,"format":"~g","title":"Δ Γ","titleFontSize":17,"titleX":-39,"titleY":170}},
"y2":{"field":"bu"}}},
{"data":{"name":"hpb"},"mark":{"type":"area","interpolate":"monotone","color":"#00ff00","clip":true},
"encoding":{"x":{"field":"x","type":"quantitative","scale":{"domain":[0,1.15]},"axis":{"orient":"bottom","values":[0,0.2,0.4,0.6,0.8,1],"labels":false,"tickSize":-6,"title":"Vf","titleFontSize":13,"titleX":118.5,"titleY":44}},
"y":{"field":"gl","type":"quantitative","scale":{"domain":[-1.5,1.5]},"axis":{"orient":"left","values":[-1.5,-1,-0.5,0,0.5,1,1.5],"labels":false,"tickSize":-6,"title":"tot","titleFontSize":13,"titleX":-35,"titleY":145}},
"y2":{"field":"gu"}}},
{"data":{"name":"hpb"},"mark":{"type":"area","interpolate":"monotone","color":"#ff0000","clip":true},
"encoding":{"x":{"field":"x","type":"quantitative","scale":{"domain":[0,1.15]},"axis":{"orient":"bottom","values":[0,0.04,0.08,0.12,0.16,0.2,0.24,0.28,0.32,0.36,0.4,0.44,0.48,0.52,0.56,0.6,0.64,0.68,0.72,0.76,0.8,0.84,0.88,0.92,0.96,1,1.04,1.08,1.12],"labels":false,"tickSize":-3,"title":null}},
"y":{"field":"rl","type":"quantitative","scale":{"domain":[-1.5,1.5]},"axis":{"orient":"left","values":[-1.5,-1.4,-1.3,-1.2,-1.1,-1,-0.9,-0.8,-0.7,-0.6,-0.5,-0.4,-0.3,-0.2,-0.1,0,0.1,0.2,0.3,0.4,0.5,0.6,0.7,0.8,0.9,1,1.1,1.2,1.3,1.4,1.5],"labels":false,"tickSize":-3,"title":"(MeV)","titleFontSize":17,"titleX":-39,"titleY":123}},
"y2":{"field":"ru"}}},
{"data":{"name":"hpc"},"mark":{"type":"line","interpolate":"monotone","color":"#000000","strokeWidth":2.5,"clip":true},
"encoding":{"x":{"field":"x","type":"quantitative","scale":{"domain":[0,1.15]},"axis":null},"y":{"field":"f","type":"quantitative","scale":{"domain":[-1.5,1.5]},"axis":null}}},
{"data":{"values":[{"v":1}]},"mark":{"type":"rule","strokeDash":[2,2],"color":"#444","strokeWidth":1},"encoding":{"x":{"field":"v","type":"quantitative","scale":{"domain":[0,1.15]},"axis":null}}},
{"data":{"values":[{"v":0}]},"mark":{"type":"rule","strokeDash":[2,2],"color":"#444","strokeWidth":1},"encoding":{"y":{"field":"v","type":"quantitative","scale":{"domain":[-1.5,1.5]},"axis":null}}},
{"data":{"values":[{"x":1,"y":0}]},"mark":{"type":"point","shape":"M0,-1L0.235,-0.324L0.951,-0.309L0.38,0.124L0.588,0.809L0,0.4L-0.588,0.809L-0.38,0.124L-0.951,-0.309L-0.235,-0.324Z","filled":false,"color":"#ddccdd","size":70,"strokeWidth":1,"opacity":1},"encoding":{"x":{"field":"x","type":"quantitative","scale":{"domain":[0,1.15]},"axis":null},"y":{"field":"y","type":"quantitative","scale":{"domain":[-1.5,1.5]},"axis":null}}}
]}
],
"config":{
"view":{"stroke":"#555","strokeWidth":1},
"title":{"anchor":"end","frame":"group","font":"Liberation Sans","fontSize":18,"fontWeight":"bold","color":"#000","offset":0,"dy":8},
"axis":{"grid":false,"domain":false,"labelFont":"Liberation Sans","labelFontSize":11,"labelColor":"#222","labelFlush":false,"labelOverlap":false,"labelBound":false,"titleFont":"Liberation Sans","titleFontWeight":"normal","titleColor":"#111","titleAlign":"left","titleBaseline":"alphabetic","tickColor":"#444","tickWidth":1},
"axisX":{"labelPadding":4,"titleAngle":0},
"axisY":{"labelPadding":2,"titleAngle":270}
}
}
